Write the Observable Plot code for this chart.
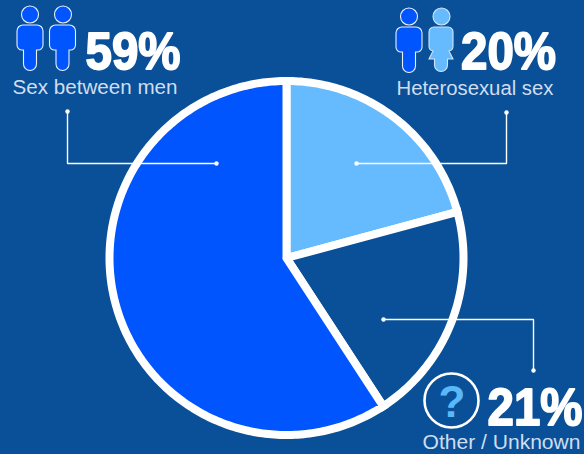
<!DOCTYPE html>
<html><head><meta charset="utf-8">
<script src="https://cdn.jsdelivr.net/npm/d3@7"></script>
<script src="https://cdn.jsdelivr.net/npm/@observablehq/plot@0.6"></script>
<style>html,body{margin:0;padding:0;background:#0a5098;overflow:hidden}svg{display:block}</style>
</head><body><div id="c"></div>
<script>
const categories = ["Heterosexual sex", "Other / Unknown", "Sex between men"];
const percents = ["20%", "21%", "59%"];
// slice shares as drawn in the picture (the printed labels are rounded differently)
const drawnShares = [20.8, 20.0, 59.2];
const colors = ["#66bbff", "#0a5098", "#0055ff"];

const BG = "#0a5098", W = 584, H = 454;
const cx = 286, cy = 257.5, R = 177;

const arcs = d3.pie().sort(null).value(d => d)(drawnShares);
const slicePoints = arcs.flatMap((a, i) => {
  const n = Math.max(2, Math.ceil((a.endAngle - a.startAngle) * 60));
  const pts = [{k: categories[i], x: cx, y: cy}];
  for (let j = 0; j <= n; j++) {
    const t = a.startAngle + (a.endAngle - a.startAngle) * j / n;
    pts.push({k: categories[i], x: cx + R * Math.sin(t), y: cy - R * Math.cos(t)});
  }
  pts.push({k: categories[i], x: cx, y: cy});
  return pts;
});

const leaders = [
  {k: "a", x: 67, y: 111}, {k: "a", x: 67, y: 163}, {k: "a", x: 216, y: 163},
  {k: "b", x: 506, y: 112}, {k: "b", x: 506, y: 163}, {k: "b", x: 356, y: 163},
  {k: "c", x: 383, y: 319}, {k: "c", x: 533, y: 319}, {k: "c", x: 533, y: 370}
];
const leaderEnds = leaders.filter((d, i) => i % 3 !== 1);

const bigLabels = [
  {t: percents[2], x: 85, y: 68.5, w: 95},
  {t: percents[0], x: 460.5, y: 68.5, w: 95},
  {t: percents[1], x: 487, y: 424.5, w: 95}
];
const smallLabels = [
  {t: categories[2], x: 12, y: 93, w: 165},
  {t: categories[0], x: 396, y: 94, w: 157},
  {t: categories[1], x: 422, y: 448, w: 158}
];

const heads = [
  {x: 29.5, y: 14, f: "#0055ff", s: "#e8f0ff"},
  {x: 62.5, y: 14, f: "#0055ff", s: "#e8f0ff"},
  {x: 408.5, y: 16, f: "#0055ff", s: "#e8f0ff"},
  {x: 441, y: 16, f: "#66bbff", s: "#cfe6fa"}
];
const bodies = [
  {x: 30, y: 25, f: "#0055ff", s: "#e8f0ff", woman: false},
  {x: 62.5, y: 25, f: "#0055ff", s: "#e8f0ff", woman: false},
  {x: 409, y: 27, f: "#0055ff", s: "#e8f0ff", woman: false},
  {x: 441, y: 27, f: "#66bbff", s: "#cfe6fa", woman: true}
];
const manPath = "M-7,0H7a6,6 0 0 1 6,6V20a5,5 0 0 1-5,5H6.5V39a6.5,6.5 0 0 1-13,0V25H-8a5,5 0 0 1-5-5V6a6,6 0 0 1 6-6Z";
const womanPath = "M-7,0H7a5,5 0 0 1 5,5V19a5,5 0 0 1-4,5L12,32H6.5V38a6.5,6.5 0 0 1-13,0V32H-12L-8,24a5,5 0 0 1-4-5V5a5,5 0 0 1 5-5Z";

const bodyMark = (index, {x, y}) => {
  const g = d3.create("svg:g");
  for (const b of bodies) {
    g.append("path").attr("d", b.woman ? womanPath : manPath)
      .attr("transform", `translate(${x(b.x)},${y(b.y)})`)
      .attr("fill", b.f).attr("stroke", b.s).attr("stroke-width", 1.1);
  }
  return g.node();
};

const font = "'Liberation Sans', Arial, sans-serif";
const plot = Plot.plot({
  width: W, height: H,
  margin: 0,
  style: {background: BG, fontFamily: font},
  x: {domain: [0, W], range: [0, W], axis: null},
  y: {domain: [0, H], range: [0, H], axis: null},
  color: {domain: categories, range: colors},
  marks: [
    Plot.line(slicePoints, {x: "x", y: "y", z: "k", fill: "k", stroke: "#fff", strokeWidth: 8,
      curve: "linear", strokeLinejoin: "miter", strokeMiterlimit: 4}),
    Plot.line(leaders, {x: "x", y: "y", z: "k", stroke: "#fff", strokeWidth: 1.4, curve: "linear", strokeLinejoin: "miter"}),
    Plot.dot(leaderEnds, {x: "x", y: "y", r: 2.2, fill: "#fff"}),
    Plot.dot(heads, {x: "x", y: "y", r: 8.5, fill: d => d.f, stroke: d => d.s, strokeWidth: 1.1}),
    bodyMark,
    Plot.dot([{x: 451, y: 400}], {x: "x", y: "y", r: 27, fill: BG, stroke: "#fff", strokeWidth: 2.6}),
    Plot.text([{t: "?", x: 451.5, y: 416}], {x: "x", y: "y", text: "t", textAnchor: "middle", fontSize: 44, fontWeight: "bold", fill: "#5ab8f8", className: "q"}),
    Plot.text(bigLabels, {x: "x", y: "y", text: "t", textAnchor: "start", fontSize: 51, fontWeight: "bold", fill: "#fff", stroke: "#fff", strokeWidth: 1.8, className: "big"}),
    Plot.text(smallLabels, {x: "x", y: "y", text: "t", textAnchor: "start", fontSize: 20.5, fill: "#cfdeef", className: "small"})
  ]
});
document.getElementById("c").append(plot);

// Put baselines exactly on the anchor points and fit label widths.
const fit = (cls, arr) => {
  plot.querySelectorAll(`.${cls} text`).forEach((t, i) => {
    t.setAttribute("y", 0);
    t.removeAttribute("dy");
    if (arr) {
      t.setAttribute("textLength", arr[i].w);
      t.setAttribute("lengthAdjust", "spacingAndGlyphs");
    }
  });
};
fit("big", bigLabels);
fit("small", smallLabels);
fit("q");
</script></body></html>
